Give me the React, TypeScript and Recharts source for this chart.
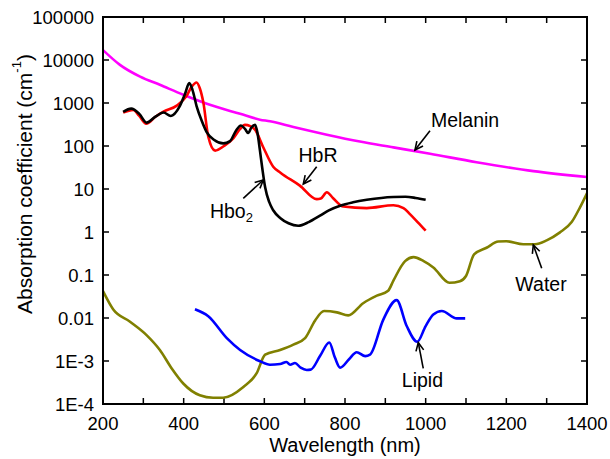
import React from 'react';
import { LineChart, Line, XAxis, YAxis, ReferenceLine, ReferenceDot } from 'recharts';

// wavelength (nm) / absorption coefficient (cm-1)
const melaninNm = [200, 242, 292, 341, 399, 465, 540, 589, 614, 672, 755, 837, 920, 1011, 1126, 1267, 1400];
const melaninVal = [17000, 7700, 4100, 2650, 1560, 910, 560, 410, 375, 275, 183, 127, 93, 66, 42, 26, 19];

const hbo2Nm = [250, 270, 290, 308, 330, 350, 368, 390, 403, 414, 422, 432, 445, 457, 475, 498, 515, 530, 542, 552, 560, 568, 577, 583, 589, 595, 602, 612, 622, 640, 660, 684, 710, 738, 760, 788, 820, 854, 890, 920, 950, 975, 1000];
const hbo2Val = [620, 740, 560, 350, 480, 600, 500, 830, 1600, 2900, 2000, 850, 380, 210, 140, 115, 130, 230, 300, 250, 200, 270, 310, 200, 80, 30, 11, 5, 3.2, 2.1, 1.6, 1.4, 1.7, 2.4, 3.2, 4.1, 4.9, 5.6, 6.2, 6.5, 6.6, 6.2, 5.6];

const hbrNm = [250, 275, 290, 307, 330, 350, 383, 407, 420, 432, 440, 449, 461, 478, 500, 523, 540, 552, 565, 577, 597, 622, 640, 688, 730, 740, 755, 770, 796, 854, 920, 945, 961, 980, 1000];
const hbrVal = [600, 690, 500, 330, 480, 630, 870, 1450, 2400, 3000, 2200, 1000, 165, 78, 100, 150, 250, 310, 290, 240, 95, 33, 24, 12, 5.8, 6.0, 8.4, 6.2, 3.9, 3.6, 4.2, 3.6, 2.6, 1.7, 1.07];

const waterNm = [200, 225, 267, 308, 341, 370, 399, 440, 473, 498, 548, 581, 602, 639, 672, 701, 726, 748, 780, 808, 845, 879, 907, 920, 949, 970, 995, 1019, 1059, 1085, 1100, 1120, 1151, 1180, 1200, 1242, 1271, 1300, 1333, 1362, 1383, 1400];
const waterVal = [0.042, 0.016, 0.0082, 0.004, 0.0018, 0.00068, 0.0003, 0.00016, 0.00014, 0.00014, 0.00025, 0.00052, 0.0014, 0.0018, 0.0024, 0.0034, 0.0088, 0.0145, 0.0135, 0.0115, 0.022, 0.033, 0.043, 0.074, 0.21, 0.26, 0.21, 0.15, 0.066, 0.072, 0.095, 0.3, 0.43, 0.6, 0.61, 0.52, 0.52, 0.64, 0.98, 1.7, 3.8, 8];

const lipidNm = [428, 461, 507, 540, 588, 614, 639, 655, 664, 676, 690, 705, 715, 738, 761, 775, 788, 810, 829, 850, 862, 895, 928, 953, 979, 1000, 1019, 1040, 1077, 1098];
const lipidVal = [0.016, 0.011, 0.0034, 0.0018, 0.001, 0.00082, 0.00085, 0.00095, 0.00082, 0.0009, 0.0007, 0.00062, 0.00063, 0.0013, 0.0027, 0.0012, 0.0007, 0.0011, 0.0016, 0.0013, 0.0014, 0.0092, 0.026, 0.0065, 0.0028, 0.0065, 0.012, 0.0145, 0.0098, 0.0098];

const xTicks = [200, 300, 400, 500, 600, 700, 800, 900, 1000, 1100, 1200, 1300, 1400];
const yTicks = [1e-4, 1e-3, 0.01, 0.1, 1, 10, 100, 1000, 10000, 100000];

const X_MIN = 200;
const X_MAX = 1400;
const Y_MIN = 1e-4;
const Y_MAX = 1e5;

const MARGIN = { top: 17, right: 23, left: 0, bottom: 0 };
const W = 610;
const H = 459;
const Y_AXIS_W = 103;
const X_AXIS_H = 55;

// two reference points inside the plot; the tick marks are laid out from their screen positions
const REF_A = { x: 400, y: 0.01 };
const REF_B = { x: 1200, y: 1000 };

const pts = (xs: number[], ys: number[]) => xs.map((x, i) => ({ x, y: ys[i] }));
const melanin = pts(melaninNm, melaninVal);
const hbo2 = pts(hbo2Nm, hbo2Val);
const hbr = pts(hbrNm, hbrVal);
const water = pts(waterNm, waterVal);
const lipid = pts(lipidNm, lipidVal);

const FONT = '"Liberation Sans", Arial, Helvetica, sans-serif';

const fmtY = (v: number) => (v === 1e-4 ? '1E-4' : v === 1e-3 ? '1E-3' : String(v));
const fmtX = (v: number) => (v % 200 === 0 ? String(v) : '');

const Arrow = (p: any) => {
  const { x1, y1, x2, y2 } = p;
  const a = Math.atan2(y2 - y1, x2 - x1);
  const h = 9;
  const w = 0.45;
  const ax = x2 - h * Math.cos(a - w);
  const ay = y2 - h * Math.sin(a - w);
  const bx = x2 - h * Math.cos(a + w);
  const by = y2 - h * Math.sin(a + w);
  return (
    <g>
      <line x1={x1} y1={y1} x2={x2} y2={y2} stroke="#000" strokeWidth={1.6} />
      <polyline points={`${ax},${ay} ${x2},${y2} ${bx},${by}`} fill="none" stroke="#000" strokeWidth={1.6} />
    </g>
  );
};

// inward ticks on all four sides
const Ticks = (p: any) => {
  const { x1, y1, x2, y2 } = p;
  const sx = (v: number) => x1 + ((v - REF_A.x) * (x2 - x1)) / (REF_B.x - REF_A.x);
  const la = Math.log10(REF_A.y);
  const lb = Math.log10(REF_B.y);
  const sy = (v: number) => y1 + ((Math.log10(v) - la) * (y2 - y1)) / (lb - la);
  const L = sx(X_MIN);
  const R = sx(X_MAX);
  const B = sy(Y_MIN);
  const T = sy(Y_MAX);
  const t = 6;
  return (
    <g fill="#000" stroke="none">
      {xTicks.map((v) => (
        <g key={`x${v}`}>
          <rect x={sx(v) - 0.75} y={B - t} width={1.5} height={t} />
          <rect x={sx(v) - 0.75} y={T} width={1.5} height={t} />
        </g>
      ))}
      {yTicks.map((v) => (
        <g key={`y${v}`}>
          <rect x={L} y={sy(v) - 0.75} width={t} height={1.5} />
          <rect x={R - t} y={sy(v) - 0.75} width={t} height={1.5} />
        </g>
      ))}
    </g>
  );
};

const note = (text: string, anchor: 'start' | 'middle' | 'end', sub?: string) => (p: any) => {
  const vb = p.viewBox || {};
  const cx = vb.x + (vb.width || 0) / 2;
  const cy = vb.y + (vb.height || 0) / 2;
  return (
    <text x={cx} y={cy} textAnchor={anchor} dominantBaseline="central" fontSize={19.5} fill="#000" fontFamily={FONT}>
      {text}
      {sub && <tspan dy={6} fontSize={13}>{sub}</tspan>}
    </text>
  );
};

const yLabel = () => {
  const cx = 24;
  const cy = 184;
  return (
    <text x={cx} y={cy} transform={`rotate(-90 ${cx} ${cy})`} textAnchor="middle" dominantBaseline="central" fontSize={21} fill="#000" fontFamily={FONT}>
      Absorption coefficient (cm<tspan dy={-8} fontSize={13}>-1</tspan><tspan dy={8}>)</tspan>
    </text>
  );
};

const xLabel = (p: any) => {
  const vb = p.viewBox || {};
  return (
    <text x={vb.x + vb.width / 2} y={452} textAnchor="middle" fontSize={20} fill="#000" fontFamily={FONT}>
      Wavelength (nm)
    </text>
  );
};

const tickStyle = { fill: '#000', fontSize: 18.5, fontFamily: FONT };

// the plot box follows the chart margins and axis sizes
const plotLeft = MARGIN.left + Y_AXIS_W;
const plotTop = MARGIN.top;
const plotWidth = W - MARGIN.right - plotLeft;
const plotHeight = H - MARGIN.bottom - X_AXIS_H - plotTop;

export default function App() {
  return (
    <div style={{ position: 'absolute', left: 0, top: 0, width: W, height: H, background: '#fff' }}>
      <LineChart width={W} height={H} margin={MARGIN}>
        <XAxis
          type="number"
          dataKey="x"
          domain={[X_MIN, X_MAX]}
          allowDataOverflow
          ticks={xTicks}
          interval={0}
          tickFormatter={fmtX}
          tickSize={0}
          tickMargin={13}
          height={X_AXIS_H}
          axisLine={{ stroke: '#000', strokeWidth: 2 }}
          tickLine={false}
          tick={tickStyle}
          label={xLabel}
        />
        <YAxis
          scale="log"
          type="number"
          domain={[Y_MIN, Y_MAX]}
          allowDataOverflow
          ticks={yTicks}
          interval={0}
          tickFormatter={fmtY}
          tickSize={0}
          tickMargin={9}
          width={Y_AXIS_W}
          axisLine={{ stroke: '#000', strokeWidth: 2 }}
          tickLine={false}
          tick={tickStyle}
          label={yLabel}
        />

        <ReferenceLine segment={[REF_A, REF_B]} shape={Ticks} ifOverflow="visible" />

        <Line data={melanin} dataKey="y" type="monotone" stroke="#ff00ff" strokeWidth={2.6} dot={false} isAnimationActive={false} />
        <Line data={water} dataKey="y" type="monotone" stroke="#808000" strokeWidth={2.6} dot={false} isAnimationActive={false} />
        <Line data={lipid} dataKey="y" type="monotone" stroke="#0000ff" strokeWidth={2.6} dot={false} isAnimationActive={false} />
        <Line data={hbr} dataKey="y" type="monotone" stroke="#ff0000" strokeWidth={2.6} dot={false} isAnimationActive={false} />
        <Line data={hbo2} dataKey="y" type="monotone" stroke="#000000" strokeWidth={2.6} dot={false} isAnimationActive={false} />

        <ReferenceLine segment={[{ x: 1010.7, y: 227 }, { x: 973.5, y: 80.7 }]} shape={Arrow} ifOverflow="visible" />
        <ReferenceLine segment={[{ x: 729.8, y: 33 }, { x: 696.6, y: 13.1 }]} shape={Arrow} ifOverflow="visible" />
        <ReferenceLine segment={[{ x: 547.8, y: 6.08 }, { x: 597.4, y: 16.2 }]} shape={Arrow} ifOverflow="visible" />
        <ReferenceLine segment={[{ x: 1287.7, y: 0.143 }, { x: 1266.9, y: 0.499 }]} shape={Arrow} ifOverflow="visible" />
        <ReferenceLine segment={[{ x: 994, y: 0.000676 }, { x: 981.7, y: 0.00267 }]} shape={Arrow} ifOverflow="visible" />

        <ReferenceDot x={1013} y={403} r={1} fill="none" stroke="none" ifOverflow="visible" label={note('Melanin', 'start')} />
        <ReferenceDot x={733} y={61.8} r={1} fill="none" stroke="none" ifOverflow="visible" label={note('HbR', 'middle')} />
        <ReferenceDot x={465} y={3.08} r={1} fill="none" stroke="none" ifOverflow="visible" label={note('Hbo', 'start', '2')} />
        <ReferenceDot x={1286} y={0.0634} r={1} fill="none" stroke="none" ifOverflow="visible" label={note('Water', 'middle')} />
        <ReferenceDot x={992} y={0.000352} r={1} fill="none" stroke="none" ifOverflow="visible" label={note('Lipid', 'middle')} />
      </LineChart>
      {/* plot frame */}
      <div
        style={{
          position: 'absolute',
          left: plotLeft - 1,
          top: plotTop - 1,
          width: plotWidth + 2,
          height: plotHeight + 2,
          border: '2px solid #000',
          boxSizing: 'border-box',
          pointerEvents: 'none',
        }}
      />
    </div>
  );
}
